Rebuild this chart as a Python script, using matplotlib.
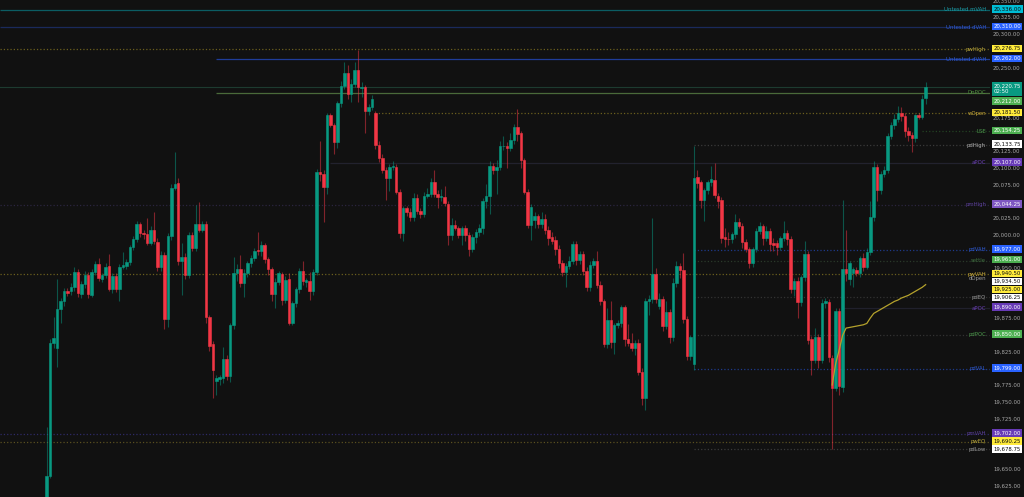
import numpy as np
import matplotlib
matplotlib.use("Agg")
import matplotlib.pyplot as plt
import matplotlib.transforms as mtransforms
from matplotlib.ticker import FuncFormatter

# %% candle data
opens = [19590, 19639, 19838, 19830, 19888, 19900, 19916, 19915, 19921, 19944,
         19911, 19926, 19940, 19910, 19944, 19956, 19934, 19939, 19953, 19919,
         19938, 19919, 19952, 19953, 19959, 19981, 19993, 20015, 20002, 20000,
         19988, 20006, 19989, 19951, 19969, 19874, 19997, 20070, 20077, 19960,
         19966, 19940, 19999, 19980, 20016, 20007, 20016, 19876, 19836, 19781,
         19784, 19786, 19814, 19788, 19864, 19942, 19948, 19927, 19942, 19957,
         19965, 19977, 19975, 19984, 19964, 19948, 19911, 19929, 19941, 19902,
         19933, 19868, 19897, 19918, 19946, 19929, 19931, 19916, 19944, 20094,
         20090, 20071, 20178, 20164, 20139, 20196, 20222, 20241, 20210, 20225,
         20246, 20219, 20220, 20184, 20190, 20181, 20134, 20114, 20097, 20084,
         20101, 20101, 20064, 20002, 20039, 20034, 20026, 20055, 20035, 20031,
         20058, 20060, 20078, 20061, 20056, 20056, 20046, 19999, 20014, 20010,
         19999, 20009, 19999, 19979, 19996, 20003, 20009, 20050, 20058, 20102,
         20097, 20101, 20132, 20133, 20130, 20142, 20160, 20151, 20111, 20064,
         20014, 20022, 20028, 20016, 20023, 20007, 19996, 19992, 19979, 19957,
         19944, 19953, 19961, 19986, 19962, 19971, 19946, 19921, 19955, 19960,
         19925, 19900, 19837, 19872, 19839, 19865, 19868, 19891, 19844, 19838,
         19831, 19838, 19795, 19756, 19900, 19903, 19941, 19893, 19904, 19863,
         19884, 19846, 19928, 19953, 19947, 19874, 19818, 19807, 20086, 20078,
         20051, 20067, 20078, 20082, 20057, 20051, 19996, 19994, 19993, 20000,
         20019, 20013, 19989, 19978, 19958, 19979, 20005, 20012, 19995, 20005,
         19988, 19988, 19981, 19995, 20002, 19994, 19918, 19931, 19899, 19936,
         19971, 19843, 19812, 19847, 19812, 19897, 19899, 19816, 19771, 19886,
         19772, 19948, 19933, 19943, 19947, 19942, 19965, 19952, 19974, 20026,
         20101, 20066, 20091, 20097, 20148, 20163, 20173, 20182, 20177, 20155,
         20149, 20144, 20178, 20176, 20204]
highs = [19712, 19843, 19877, 19933, 19905, 19920, 19920, 19928, 19952, 19948,
         19930, 19945, 19944, 19948, 19960, 19965, 19942, 19957, 19971, 19942,
         19942, 19956, 19974, 19963, 19985, 19997, 20020, 20019, 20006, 20025,
         20012, 20034, 19995, 19975, 19974, 20002, 20076, 20123, 20085, 19987,
         19972, 20003, 20004, 20044, 20048, 20020, 20020, 19880, 19840, 19790,
         19790, 19832, 19820, 19868, 19967, 19956, 19970, 19948, 19960, 19970,
         19980, 20003, 19990, 19987, 19967, 19952, 19935, 19946, 19944, 19938,
         19942, 19900, 19922, 19950, 19960, 19935, 19944, 19948, 20098, 20140,
         20096, 20182, 20182, 20167, 20200, 20230, 20258, 20253, 20232, 20258,
         20276, 20228, 20224, 20195, 20208, 20185, 20140, 20120, 20101, 20105,
         20110, 20105, 20068, 20043, 20042, 20040, 20062, 20060, 20040, 20064,
         20070, 20084, 20097, 20066, 20068, 20072, 20050, 20024, 20022, 20013,
         20012, 20014, 20003, 20000, 20008, 20015, 20055, 20075, 20110, 20107,
         20112, 20140, 20148, 20138, 20152, 20165, 20188, 20155, 20115, 20068,
         20045, 20033, 20031, 20033, 20030, 20012, 20003, 19998, 19985, 19962,
         19958, 19968, 19990, 19990, 19976, 19975, 19952, 19960, 19965, 19975,
         19930, 19904, 19890, 19900, 19868, 19872, 19895, 19895, 19866, 19852,
         19842, 19843, 19800, 19905, 19910, 20025, 19950, 19912, 19908, 19900,
         19888, 19935, 19960, 19958, 19972, 19878, 19850, 20132, 20096, 20082,
         20070, 20082, 20103, 20107, 20062, 20056, 20010, 20004, 20004, 20031,
         20024, 20017, 19994, 19982, 19982, 20010, 20018, 20016, 20012, 20010,
         19995, 19992, 19998, 20020, 20006, 19998, 19935, 19936, 19940, 19990,
         19975, 19848, 19860, 19851, 19903, 19905, 19903, 19820, 19890, 19890,
         20052, 20006, 19960, 19951, 19952, 19968, 19972, 19980, 20050, 20110,
         20106, 20095, 20102, 20152, 20168, 20180, 20192, 20190, 20182, 20160,
         20153, 20180, 20182, 20208, 20228]
lows = [19580, 19636, 19830, 19802, 19867, 19893, 19908, 19910, 19915, 19906,
        19905, 19920, 19905, 19906, 19940, 19930, 19929, 19935, 19915, 19913,
        19914, 19900, 19948, 19949, 19955, 19977, 19989, 19996, 19994, 19984,
        19984, 19986, 19945, 19946, 19858, 19862, 19992, 20066, 19955, 19909,
        19934, 19935, 19975, 19976, 20003, 20003, 19868, 19826, 19755, 19760,
        19775, 19778, 19783, 19780, 19858, 19930, 19922, 19906, 19937, 19952,
        19960, 19970, 19968, 19958, 19940, 19900, 19890, 19924, 19895, 19898,
        19865, 19864, 19892, 19912, 19925, 19922, 19902, 19910, 19940, 20080,
        20018, 20060, 20160, 20120, 20130, 20190, 20218, 20203, 20198, 20220,
        20198, 20205, 20152, 20178, 20186, 20128, 20108, 20092, 20052, 20065,
        20096, 20060, 19995, 19990, 20028, 20020, 20020, 20030, 20024, 20026,
        20054, 20056, 20056, 20040, 20050, 20042, 19985, 19992, 20006, 19995,
        19985, 19990, 19968, 19974, 19988, 19998, 20000, 20040, 20030, 20090,
        20060, 20096, 20126, 20100, 20125, 20136, 20140, 20100, 20060, 20010,
        19992, 20010, 20010, 20010, 20000, 19985, 19986, 19970, 19950, 19938,
        19922, 19948, 19956, 19955, 19956, 19940, 19916, 19915, 19950, 19920,
        19895, 19832, 19830, 19830, 19822, 19860, 19862, 19834, 19834, 19826,
        19820, 19790, 19745, 19737, 19880, 19898, 19898, 19888, 19856, 19858,
        19838, 19840, 19922, 19935, 19868, 19812, 19812, 19797, 20070, 20040,
        20020, 20060, 20072, 20054, 20040, 19988, 19982, 19985, 19988, 19995,
        20010, 19980, 19974, 19950, 19952, 19974, 20000, 19985, 19990, 19976,
        19975, 19970, 19977, 19990, 19985, 19912, 19908, 19875, 19893, 19930,
        19836, 19790, 19808, 19800, 19808, 19890, 19810, 19680, 19766, 19760,
        19765, 19930, 19925, 19922, 19938, 19936, 19945, 19948, 19970, 20020,
        20050, 20060, 20086, 20092, 20143, 20158, 20168, 20170, 20146, 20140,
        20123, 20138, 20172, 20172, 20195]
closes = [19639, 19838, 19845, 19889, 19900, 19915, 19913, 19921, 19944, 19913,
          19926, 19940, 19911, 19944, 19956, 19935, 19939, 19952, 19919, 19938,
          19919, 19952, 19954, 19959, 19981, 19993, 20016, 20002, 20000, 19988,
          20007, 19991, 19951, 19969, 19874, 19997, 20070, 20075, 19960, 19966,
          19940, 19999, 19980, 20016, 20007, 20016, 19876, 19833, 19797, 19786,
          19787, 19814, 19788, 19864, 19942, 19948, 19927, 19942, 19957, 19965,
          19976, 19975, 19984, 19963, 19948, 19911, 19929, 19942, 19902, 19932,
          19868, 19897, 19918, 19946, 19931, 19932, 19916, 19944, 20094, 20090,
          20071, 20178, 20163, 20139, 20196, 20222, 20241, 20210, 20225, 20246,
          20220, 20221, 20184, 20190, 20203, 20134, 20114, 20097, 20084, 20101,
          20103, 20064, 20002, 20039, 20034, 20026, 20055, 20035, 20031, 20058,
          20061, 20078, 20060, 20056, 20057, 20047, 19999, 20014, 20010, 19999,
          20009, 19999, 19979, 19996, 20003, 20009, 20050, 20058, 20103, 20097,
          20101, 20132, 20133, 20130, 20142, 20160, 20150, 20111, 20064, 20014,
          20041, 20028, 20016, 20023, 20007, 19995, 19991, 19979, 19957, 19944,
          19953, 19961, 19986, 19962, 19971, 19946, 19921, 19955, 19960, 19925,
          19900, 19837, 19872, 19839, 19865, 19868, 19891, 19844, 19838, 19831,
          19838, 19795, 19756, 19900, 19903, 19941, 19903, 19903, 19863, 19884,
          19846, 19928, 19953, 19947, 19874, 19818, 19846, 20085, 20077, 20052,
          20067, 20078, 20083, 20059, 20050, 19995, 19994, 19993, 20000, 20019,
          20012, 19989, 19978, 19958, 19979, 20005, 20012, 19995, 20005, 19986,
          19985, 19982, 19995, 20002, 19994, 19918, 19931, 19899, 19936, 19971,
          19842, 19812, 19847, 19812, 19898, 19900, 19817, 19771, 19886, 19773,
          19948, 19943, 19957, 19948, 19942, 19965, 19952, 19974, 20026, 20101,
          20066, 20091, 20097, 20148, 20163, 20173, 20182, 20177, 20155, 20149,
          20144, 20178, 20176, 20203, 20220.75]

# session vwap, starts at candle 228
vwap_first = 227
vwap = [19775, 19807, 19827, 19849, 19860, 19861, 19862, 19863, 19864, 19865,
        19867, 19875, 19882, 19885, 19888, 19891, 19894, 19897, 19900, 19902,
        19905, 19907, 19909, 19912, 19915, 19918, 19921, 19925]

# key levels
level_names = ["Untested mVAH", "Untested dVAH", "pwHigh", "Untested dVAH", "DnPOC",
               "wOpen", "LSE", "pdHigh", "aPOC", "pmHigh", "pdVAH", "settle",
               "pwVAH", "dOpen", "pdEQ", "aPOC", "pdPOC", "pdVAL", "pmVAH",
               "pwEQ", "pdLow"]
level_values = [20336.00, 20310.00, 20276.75, 20262.00, 20212.00,
                20181.50, 20154.25, 20133.75, 20107.00, 20044.25, 19977.00, 19961.00,
                19940.50, 19934.50, 19906.25, 19890.00, 19850.00, 19799.00, 19702.00,
                19690.25, 19678.75]
last_price = 20220.75
countdown = "02:50"

# %% styles
BG = "#111111"
UP = "#089981"
DOWN = "#f23645"
YEL = "#ffeb3b"
BLUE = "#2962ff"
PURP = "#673ab7"
GRN = "#4caf50"
WHT = "#ffffff"
# line color, line style, first candle, name color, box color, box text color
level_styles = [
    ("#0b5d63", "-", None, "#1b9aa5", "#00bcd4", "#0a0a0a"),
    ("#1a2a5c", "-", None, "#2f5bd6", BLUE, WHT),
    ("#6b5f1e", ":", None, "#b8a53a", YEL, "#0a0a0a"),
    ("#1f3d9a", "-", 49, "#2f5bd6", BLUE, WHT),
    ("#4a6a3a", "-", 49, "#4f8f3f", GRN, WHT),
    ("#6b5f1e", ":", 95, "#c8a93a", YEL, "#0a0a0a"),
    ("#234223", ":", 253, "#4c9a4c", GRN, WHT),
    ("#3a3a3a", ":", 187, "#b0b0b0", WHT, "#0a0a0a"),
    ("#22222e", "-", 82, "#6a3fb5", PURP, WHT),
    ("#2b2540", ":", None, "#5b3f9a", "#7e57c2", WHT),
    ("#1e3a8a", ":", 187, "#2f5bd6", BLUE, WHT),
    ("#2a3a2a", ":", 187, "#3f6e3f", GRN, WHT),
    ("#6b5f1e", ":", None, "#c8a93a", YEL, "#0a0a0a"),
    (None, ":", None, "#9a9a9a", WHT, "#0a0a0a"),
    ("#333333", ":", 187, "#9a9a9a", WHT, "#0a0a0a"),
    ("#20202c", "-", 230, "#6a3fb5", PURP, WHT),
    ("#333333", ":", 187, "#4c9a4c", GRN, WHT),
    ("#1e3a8a", ":", 187, "#2f5bd6", BLUE, WHT),
    ("#2e2a66", ":", None, "#5b3f9a", PURP, WHT),
    ("#5a5020", ":", None, "#b8a53a", YEL, "#0a0a0a"),
    ("#3a3a3a", ":", 187, "#9a9a9a", WHT, "#0a0a0a"),
]

FS = 3.9
ymin, ymax = 19607.5, 20350.6
xmin, xmax = -13.5, 272.6
W, H = 1024, 497
ppu = H / (ymax - ymin)   # pixels per price unit

fig = plt.figure(figsize=(W / 100, H / 100), dpi=100, facecolor=BG)
ax = fig.add_axes([0, 0, 990 / W, 1])
ax.set_facecolor(BG)
for s in ax.spines.values():
    s.set_visible(False)

x = np.arange(len(closes))
o = np.array(opens, dtype=float)
c = np.array(closes, dtype=float)
hi = np.array(highs, dtype=float)
lo = np.array(lows, dtype=float)
up = c >= o
cols = np.where(up, UP, DOWN)

# wicks then bodies
ax.vlines(x, lo, hi, colors=cols, linewidth=0.8, alpha=0.5, zorder=3)
ax.bar(x, c - o, bottom=o, width=0.72, color=cols, edgecolor=cols,
       linewidth=0.4, zorder=4)

# vwap
ax.plot(np.arange(vwap_first, vwap_first + len(vwap)), vwap,
        color="#b5a22c", lw=0.9, zorder=5)

# level lines + names
trans = mtransforms.blended_transform_factory(ax.transAxes, ax.transData)
for name, val, st in zip(level_names, level_values, level_styles):
    lc, ls, start, nc, bc, tc = st
    if lc is not None:
        x0 = xmin if start is None else start
        ax.hlines(val, x0, xmax, colors=lc, linestyles=ls, lw=0.9, zorder=2)
    ax.text(0.996, val, name, transform=trans, ha="right", va="center",
            fontsize=FS, color=nc, zorder=6)

# last price line
ax.axhline(last_price, color="#1d3b30", lw=0.8, zorder=1)

# %% price scale boxes, stacked so they don't overlap (in pixels)
boxes = []
for val, st in zip(level_values, level_styles):
    boxes.append((val, f"{val:,.2f}", st[4], st[5], 4.0, 4.0))
boxes.append((vwap[-1], f"{vwap[-1]:,.2f}", YEL, "#0a0a0a", 4.0, 4.0))
boxes.append((last_price, f"{last_price:,.2f}\n{countdown}", UP, WHT, 4.0, 11.0))
boxes.sort(key=lambda b: -b[0])

covered = []
prev_bottom = -1e9
for val, txt, bc, tc, up_px, dn_px in boxes:
    ideal = (ymax - val) * ppu
    ctr = max(ideal, prev_bottom + up_px)
    prev_bottom = ctr + dn_px
    covered.append((ctr - up_px, ctr + dn_px))
    ytop = ymax - (ctr - up_px + 0.6) / ppu
    ax.text(1.0035, ytop, txt, transform=trans, ha="left", va="top",
            fontsize=FS, color=tc, linespacing=1.25, clip_on=False, zorder=10,
            bbox=dict(boxstyle="square,pad=0.22", fc=bc, ec="none"))

# price scale ticks, hidden where a box sits right on top of them
ticks = []
for t in np.arange(19625, 20351, 25):
    tp = (ymax - t) * ppu
    if all(tp < a or tp > b for a, b in covered):
        ticks.append(t)

ax.set_xlim(xmin, xmax)
ax.set_ylim(ymin, ymax)
ax.set_xticks([])
ax.set_yticks(ticks)
ax.yaxis.tick_right()
ax.yaxis.set_major_formatter(FuncFormatter(lambda v, p: f"{v:,.2f}"))
ax.tick_params(axis="y", length=0, pad=2.2, labelsize=FS, labelcolor="#a8a8a8")

fig.savefig("out.png", dpi=100, facecolor=BG)
